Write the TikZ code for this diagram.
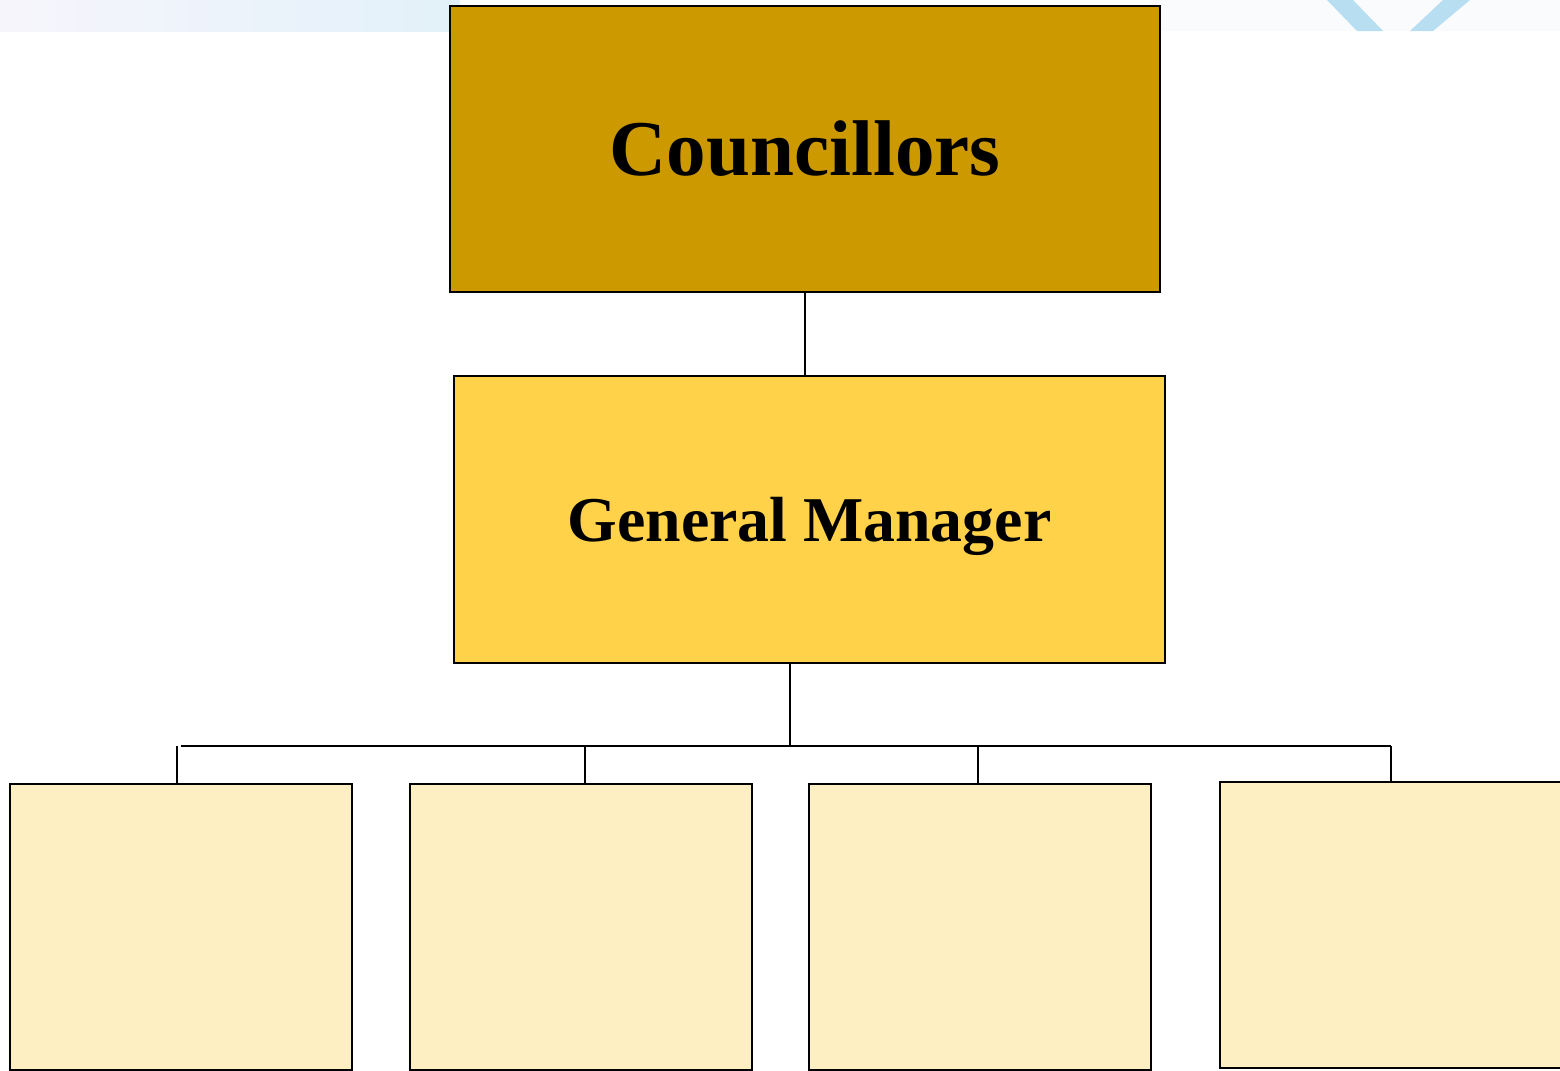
\documentclass[tikz,border=0pt]{standalone}
\usepackage{fontspec}
\setmainfont{Liberation Serif}
\begin{document}
\definecolor{topgold}{HTML}{CC9900}
\definecolor{midgold}{HTML}{FFD24A}
\definecolor{paleyellow}{HTML}{FEEFC2}
\definecolor{bandA}{HTML}{F7F5FC}
\definecolor{bandB}{HTML}{E2F1F9}
\definecolor{bandC}{HTML}{FAFBFC}
\definecolor{vblue}{HTML}{B8DEF2}
\begin{tikzpicture}[x=0.5pt,y=-0.5pt,
  orgbox/.style={draw=black, line width=1pt, inner sep=0pt, rectangle},
  link/.style={draw=black, line width=1pt}]
\useasboundingbox (0,0) rectangle (1560,1071);
\clip (0,0) rectangle (1560,1071);
% faint header band
\shade[left color=bandA, right color=bandB] (0,0) rectangle (460,31);
\fill[bandC] (1150,0) rectangle (1560,31);
\begin{scope}
  \clip (0,0) rectangle (1560,31);
  \fill[vblue] (1327,0) -- (1353,0) -- (1383,31) -- (1357,31) -- cycle;
  \fill[vblue] (1443,0) -- (1470,0) -- (1433,31) -- (1410,31) -- cycle;
\end{scope}
% top of the chart
\node[orgbox, fill=topgold, minimum width=355pt, minimum height=143pt,
      font=\fontsize{39.5}{44}\selectfont\bfseries] (c) at (805,149) {Councillors};
\node[orgbox, fill=midgold, minimum width=355.5pt, minimum height=143.5pt,
      text depth=0pt,
      font=\fontsize{31.9}{36}\selectfont\bfseries] (gm) at (809.5,519.5) {General Manager};
% department boxes
\node[orgbox, fill=paleyellow, minimum width=171pt, minimum height=143pt] (b1) at (181,927) {};
\node[orgbox, fill=paleyellow, minimum width=171pt, minimum height=143pt] (b2) at (581,927) {};
\node[orgbox, fill=paleyellow, minimum width=171pt, minimum height=143pt] (b3) at (980,927) {};
\node[orgbox, fill=paleyellow, minimum width=171pt, minimum height=143pt] (b4) at (1391,925) {};
% connectors
\draw[link] (c.south) -- (c.south |- gm.north);
\coordinate (j) at (790,746);
\coordinate (barL) at (181,746);
\coordinate (barR) at (1391,746);
\coordinate (d1) at (177,746);
\coordinate (d2) at (585,746);
\coordinate (d3) at (978,746);
\draw[link] (gm.south -| j) -- (j);
\draw[link] (barL) -- (barR);
\draw[link] (d1) -- (d1 |- b1.north);
\draw[link] (d2) -- (d2 |- b2.north);
\draw[link] (d3) -- (d3 |- b3.north);
\draw[link] (barR) -- (b4.north);
\end{tikzpicture}
\end{document}
